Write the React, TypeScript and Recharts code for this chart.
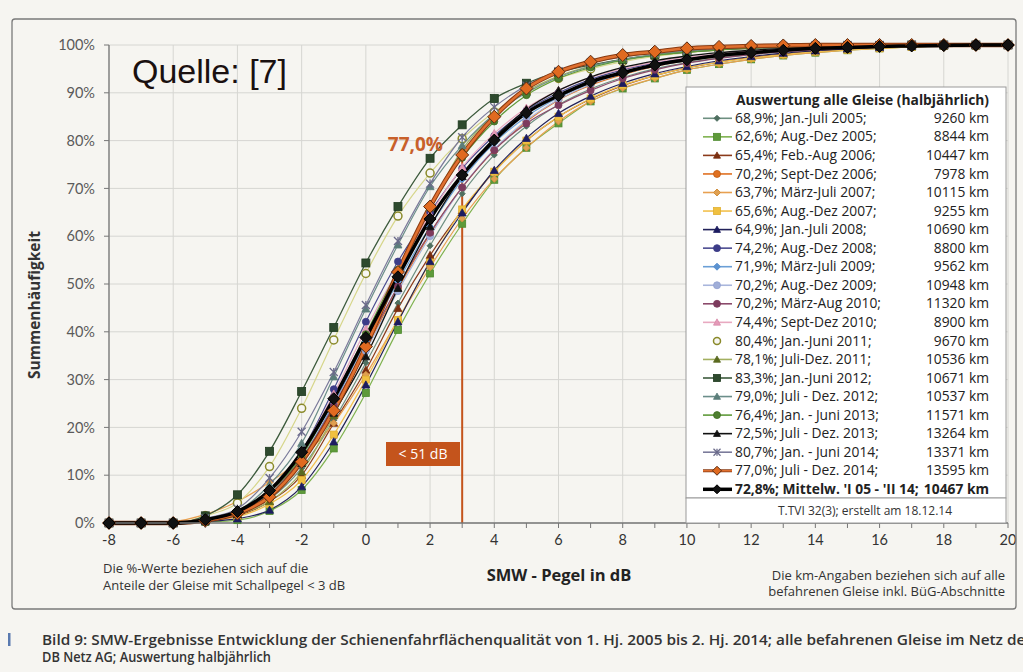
import React from 'react';
import { LineChart, Line, XAxis, YAxis, CartesianGrid, ReferenceLine } from 'recharts';

// ---------- data ----------
const xValues = [-8, -7, -6, -5, -4, -3, -2, -1, 0, 1, 2, 3, 4, 5, 6, 7, 8, 9, 10, 11, 12, 13, 14, 15, 16, 17, 18, 19, 20];
const xEvenTicks = [-8, -6, -4, -2, 0, 2, 4, 6, 8, 10, 12, 14, 16, 18, 20];
const yTicks = [0, 10, 20, 30, 40, 50, 60, 70, 80, 90, 100];

const s2005a = [0, 0, 0, 0.5, 1.7, 5, 11.5, 21.5, 33.5, 46, 58, 68.9, 77, 83, 87.5, 90.8, 93.2, 95, 96.3, 97.3, 98, 98.6, 99, 99.4, 99.6, 99.8, 99.9, 100, 100];
const s2005b = [0, 0, 0, 0.2, 0.6, 2.5, 6.9, 15.6, 27.2, 40.4, 52.2, 62.6, 71.8, 78.5, 83.6, 88.2, 90.9, 93, 94.8, 96, 97, 97.8, 98.4, 98.9, 99.3, 99.6, 99.8, 99.9, 100];
const s2006a = [0, 0, 0, 0.5, 1.5, 4.5, 10, 20.9, 32, 44.9, 56, 65.4, 73.5, 80, 85, 88.7, 91.5, 93.6, 95.2, 96.4, 97.4, 98.1, 98.7, 99.1, 99.4, 99.7, 99.9, 100, 100];
const s2006b = [0, 0, 0, 0.6, 2, 6, 13, 24, 36.5, 49, 60.5, 70.2, 78, 84, 88.5, 91.6, 93.8, 95.5, 96.7, 97.6, 98.3, 98.8, 99.2, 99.5, 99.7, 99.8, 99.9, 100, 100];
const s2007a = [0, 0, 0.3, 1.8, 4.5, 8.5, 13.5, 20.9, 31, 42.5, 53.5, 63.7, 72, 78.5, 84, 88.2, 91, 93, 94.8, 96, 97, 97.8, 98.4, 98.9, 99.3, 99.6, 99.8, 99.9, 100];
const s2007b = [0, 0, 0, 0.4, 1.3, 4, 9, 18.5, 30, 42.5, 54.5, 65.6, 73.5, 80, 85, 88.8, 91.6, 93.6, 95.2, 96.4, 97.3, 98, 98.6, 99, 99.3, 99.6, 99.8, 99.9, 100];
const s2008a = [0, 0, 0, 0.3, 0.9, 2.7, 7.6, 17, 28.9, 42.1, 54.7, 64.9, 73.8, 80.5, 85.7, 89.3, 92, 94, 95.5, 96.7, 97.6, 98.3, 98.8, 99.2, 99.5, 99.7, 99.9, 100, 100];
const s2008b = [0, 0, 0, 0.6, 2, 6.5, 15, 28, 42.1, 54.7, 65, 74.2, 81, 86.3, 90, 92.8, 94.8, 96.2, 97.2, 98, 98.6, 99, 99.3, 99.5, 99.7, 99.8, 99.9, 100, 100];
const s2009a = [0, 0, 0, 0.6, 2, 6, 13.5, 25, 38, 50.5, 62, 71.9, 79.5, 85, 89, 92, 94, 95.6, 96.8, 97.7, 98.3, 98.8, 99.2, 99.5, 99.7, 99.8, 99.9, 100, 100];
const s2009b = [0, 0, 0, 0.5, 1.7, 5.5, 12.5, 23.5, 36, 48.5, 60, 70.2, 78.2, 84.2, 88.6, 91.8, 94, 95.6, 96.8, 97.7, 98.4, 98.9, 99.3, 99.5, 99.7, 99.8, 99.9, 100, 100];
const s2010a = [0, 0, 0, 0.7, 2.3, 6.5, 13.5, 24.5, 37, 49.5, 60.7, 70.2, 78, 83.6, 87.4, 90.5, 93, 94.8, 96.2, 97.2, 98, 98.6, 99, 99.4, 99.6, 99.8, 99.9, 100, 100];
const s2010b = [0, 0, 0, 0.8, 2.5, 7, 15, 27, 40.5, 53, 64.5, 74.4, 81.5, 86.8, 90.5, 93.2, 95, 96.4, 97.4, 98.1, 98.7, 99.1, 99.4, 99.6, 99.8, 99.9, 100, 100, 100];
const s2011a = [0, 0, 0, 1.5, 4.2, 11.8, 24, 38.3, 52.2, 64.2, 73.2, 80.4, 86, 90, 93, 95, 96.5, 97.6, 98.4, 98.9, 99.3, 99.5, 99.7, 99.8, 99.9, 100, 100, 100, 100];
const s2011b = [0, 0, 0, 0.5, 1.8, 4.5, 10.7, 22.5, 37, 52, 66, 78.1, 85.5, 90.3, 93.5, 95.6, 97, 98, 98.7, 99.2, 99.5, 99.7, 99.8, 99.9, 100, 100, 100, 100, 100];
const s2012a = [0, 0, 0, 1.5, 5.9, 15, 27.5, 40.9, 54.4, 66.2, 76.3, 83.3, 88.8, 92, 94.3, 95.8, 97, 97.9, 98.5, 99, 99.3, 99.5, 99.7, 99.8, 99.9, 100, 100, 100, 100];
const s2012b = [0, 0, 0, 0.8, 2.5, 8, 16.7, 30.6, 44.8, 58.2, 70.4, 79, 85.5, 90, 93.3, 95.5, 97, 98, 98.7, 99.2, 99.5, 99.7, 99.8, 99.9, 100, 100, 100, 100, 100];
const s2013a = [0, 0, 0, 0.7, 2.2, 6.5, 14, 26, 39.5, 53, 66, 76.4, 84, 89.5, 93, 95.3, 96.8, 97.8, 98.5, 99, 99.4, 99.6, 99.8, 99.9, 100, 100, 100, 100, 100];
const s2013b = [0, 0, 0, 0.5, 1.8, 5.5, 12.5, 23, 34.8, 49.1, 62, 72.5, 80.5, 86.5, 90.5, 93.3, 95.3, 96.7, 97.7, 98.4, 98.9, 99.3, 99.5, 99.7, 99.8, 99.9, 100, 100, 100];
const s2014a = [0, 0, 0, 1, 3, 9.4, 19.1, 31.6, 45.6, 59, 71, 80.7, 87, 91.5, 94.5, 96.3, 97.5, 98.3, 98.9, 99.3, 99.6, 99.8, 99.9, 100, 100, 100, 100, 100, 100];
const s2014b = [0, 0, 0, 0.5, 2, 5.5, 12.8, 23.5, 36.9, 52.5, 66.2, 77, 85, 90.9, 94.4, 96.5, 97.9, 98.6, 99.3, 99.6, 99.8, 99.9, 100, 100, 100, 100, 100, 100, 100];
const sMean = [0, 0, 0, 0.7, 2.4, 6.8, 14.8, 26, 38.8, 51.5, 63.6, 72.8, 80.1, 85.8, 89.4, 92.3, 94.2, 95.8, 96.9, 97.8, 98.4, 98.9, 99.3, 99.5, 99.7, 99.8, 99.9, 100, 100];

const seriesValues = [s2005a, s2005b, s2006a, s2006b, s2007a, s2007b, s2008a, s2008b, s2009a, s2009b, s2010a, s2010b, s2011a, s2011b, s2012a, s2012b, s2013a, s2013b, s2014a, s2014b, sMean];

const legendLabels = [
  '68,9%; Jan.-Juli 2005;', '62,6%; Aug.-Dez 2005;', '65,4%; Feb.-Aug 2006;', '70,2%; Sept-Dez 2006;',
  '63,7%; März-Juli 2007;', '65,6%; Aug.-Dez 2007;', '64,9%; Jan.-Juli 2008;', '74,2%; Aug.-Dez 2008;',
  '71,9%; März-Juli 2009;', '70,2%; Aug.-Dez 2009;', '70,2%; März-Aug 2010;', '74,4%; Sept-Dez 2010;',
  '80,4%; Jan.-Juni 2011;', '78,1%; Juli-Dez. 2011;', '83,3%; Jan.-Juni 2012;', '79,0%; Juli - Dez. 2012;',
  '76,4%; Jan. - Juni 2013;', '72,5%; Juli - Dez. 2013;', '80,7%; Jan. - Juni 2014;', '77,0%; Juli - Dez. 2014;',
  "72,8%; Mittelw. 'I 05 - 'II 14;",
];
const legendKm = ['9260 km', '8844 km', '10447 km', '7978 km', '10115 km', '9255 km', '10690 km', '8800 km', '9562 km', '10948 km', '11320 km', '8900 km', '9670 km', '10536 km', '10671 km', '10537 km', '11571 km', '13264 km', '13371 km', '13595 km', '10467 km'];

// ---------- styles ----------
type Shape = 'diamond' | 'square' | 'triangle' | 'circle' | 'ocircle' | 'star';
interface Sty { line: string; fill: string; stroke: string; shape: Shape; size: number; width: number }
const styles: Sty[] = [
  { line: '#6d8f80', fill: '#4f6f60', stroke: '#4f6f60', shape: 'diamond', size: 3, width: 1.2 },
  { line: '#7fb24f', fill: '#5e9a3a', stroke: '#4e8a2e', shape: 'square', size: 3.5, width: 1.2 },
  { line: '#8b3a1a', fill: '#7a2e10', stroke: '#7a2e10', shape: 'triangle', size: 4, width: 1.2 },
  { line: '#e07020', fill: '#e07020', stroke: '#c05a10', shape: 'circle', size: 3.5, width: 1.2 },
  { line: '#e8a050', fill: '#e0a050', stroke: '#d09040', shape: 'diamond', size: 3.5, width: 1.2 },
  { line: '#f2c14e', fill: '#f0c040', stroke: '#e0b030', shape: 'square', size: 3.5, width: 1.2 },
  { line: '#22225a', fill: '#1c1c60', stroke: '#1c1c60', shape: 'triangle', size: 4, width: 1.2 },
  { line: '#4b4b90', fill: '#3c3c88', stroke: '#3c3c88', shape: 'circle', size: 3.5, width: 1.2 },
  { line: '#6b9fd6', fill: '#5c92d0', stroke: '#5c92d0', shape: 'diamond', size: 3.5, width: 1.2 },
  { line: '#a9b6dc', fill: '#a0aed8', stroke: '#90a0d0', shape: 'circle', size: 3.5, width: 1.2 },
  { line: '#8b4a6b', fill: '#7d3b5e', stroke: '#7d3b5e', shape: 'circle', size: 3.5, width: 1.2 },
  { line: '#e8a9c0', fill: '#e49ab8', stroke: '#d88aa8', shape: 'triangle', size: 4, width: 1.2 },
  { line: '#d6d68a', fill: '#f7f6f2', stroke: '#8a8a2a', shape: 'ocircle', size: 4, width: 1.2 },
  { line: '#a3b060', fill: '#5a6a20', stroke: '#5a6a20', shape: 'triangle', size: 4, width: 1.2 },
  { line: '#3c5a3c', fill: '#2e4a2e', stroke: '#1e3a1e', shape: 'square', size: 4, width: 1.3 },
  { line: '#6b8e8a', fill: '#5b7e7a', stroke: '#5b7e7a', shape: 'triangle', size: 4, width: 1.2 },
  { line: '#5f9a3a', fill: '#4e7f30', stroke: '#3e6f20', shape: 'circle', size: 3.5, width: 1.2 },
  { line: '#111111', fill: '#111111', stroke: '#111111', shape: 'triangle', size: 4, width: 1.3 },
  { line: '#7b7b9b', fill: '#6a6a8a', stroke: '#6a6a8a', shape: 'star', size: 4, width: 1.2 },
  { line: '#e07030', fill: '#e06a20', stroke: '#5a2a10', shape: 'diamond', size: 6.5, width: 3 },
  { line: '#000000', fill: '#111111', stroke: '#000000', shape: 'diamond', size: 6, width: 3.5 },
];

const rows = xValues.map((x, i) => {
  const r: Record<string, number> = { x };
  seriesValues.forEach((arr, k) => { r['s' + k] = arr[i]; });
  return r;
});

function Marker({ shape, cx, cy, size, fill, stroke }: { shape: Shape; cx: number; cy: number; size: number; fill: string; stroke: string }) {
  const s = size;
  switch (shape) {
    case 'diamond':
      return <polygon points={`${cx},${cy - s} ${cx + s},${cy} ${cx},${cy + s} ${cx - s},${cy}`} fill={fill} stroke={stroke} strokeWidth={1} />;
    case 'square':
      return <rect x={cx - s} y={cy - s} width={2 * s} height={2 * s} fill={fill} stroke={stroke} strokeWidth={0.8} />;
    case 'triangle':
      return <polygon points={`${cx},${cy - s} ${cx + s},${cy + s * 0.8} ${cx - s},${cy + s * 0.8}`} fill={fill} stroke={stroke} strokeWidth={0.8} />;
    case 'circle':
      return <circle cx={cx} cy={cy} r={s} fill={fill} stroke={stroke} strokeWidth={0.8} />;
    case 'ocircle':
      return <circle cx={cx} cy={cy} r={s} fill={fill} stroke={stroke} strokeWidth={1.5} />;
    case 'star':
      return (
        <g stroke={stroke} strokeWidth={1.3}>
          <line x1={cx - s} y1={cy - s} x2={cx + s} y2={cy + s} />
          <line x1={cx - s} y1={cy + s} x2={cx + s} y2={cy - s} />
          <line x1={cx} y1={cy - s} x2={cx} y2={cy + s} />
        </g>
      );
  }
  return null;
}

const FONT = 'Lato, "Open Sans", sans-serif';
const FONT2 = '"Open Sans", "Noto Sans", sans-serif';
const drawOrder = [0, 1, 2, 3, 4, 5, 6, 7, 8, 9, 10, 11, 12, 13, 14, 15, 16, 17, 18, 19, 20];

export default function App() {
  const legTop = 118.3;
  const legStep = 18.55;
  return (
    <div style={{ position: 'absolute', left: 0, top: 0, width: 1023, height: 672, background: '#f6f5f1', overflow: 'hidden' }}>
      <LineChart
        width={1023}
        height={672}
        data={rows}
        margin={{ top: 45, right: 15, bottom: 119, left: 49 }}
        style={{ position: 'absolute', left: 0, top: 0 }}
      >
        <CartesianGrid stroke="#d6d6d2" strokeWidth={1} verticalValues={xEvenTicks} horizontalValues={yTicks} />
        <XAxis
          dataKey="x"
          type="number"
          domain={[-8, 20]}
          ticks={xValues}
          interval={0}
          tickFormatter={(v: number) => (v % 2 === 0 ? String(v) : '')}
          tick={{ fontSize: 14.5, fill: '#333', fontFamily: FONT }}
          tickSize={5}
          tickMargin={7}
          tickLine={{ stroke: '#777' }}
          axisLine={{ stroke: '#777', strokeWidth: 1.3 }}
          height={30}
        />
        <YAxis
          type="number"
          domain={[0, 100]}
          ticks={yTicks}
          interval={0}
          tickFormatter={(v: number) => `${v}%`}
          tick={{ fontSize: 14.5, fill: '#5a5a5a', fontFamily: FONT }}
          tickSize={5}
          tickMargin={9}
          tickLine={{ stroke: '#777' }}
          axisLine={{ stroke: '#777', strokeWidth: 1.3 }}
          width={60}
        />
        <ReferenceLine segment={[{ x: 3, y: 0 }, { x: 3, y: 77 }]} stroke="#c4541c" strokeWidth={2} />
        {drawOrder.map((k) => {
          const st = styles[k];
          const lines = [];
          if (k === 19) {
            lines.push(
              <Line key={'o' + k} dataKey={'s' + k} type="monotone" stroke="#8a3a10" strokeWidth={4.5} dot={false} isAnimationActive={false} />
            );
          }
          lines.push(
            <Line
              key={'s' + k}
              dataKey={'s' + k}
              type="monotone"
              stroke={st.line}
              strokeWidth={k === 19 ? 2.5 : st.width}
              isAnimationActive={false}
              dot={(p: any) => (
                p.cx == null ? <g key={`d${k}-${p.index}`} /> :
                <g key={`d${k}-${p.index}`}>
                  <Marker shape={st.shape} cx={p.cx} cy={p.cy} size={st.size} fill={st.fill} stroke={st.stroke} />
                </g>
              )}
              activeDot={false}
            />
          );
          return lines;
        })}
      </LineChart>

      <svg width={1023} height={672} style={{ position: 'absolute', left: 0, top: 0, pointerEvents: 'none' }}>
        {/* frame */}
        <rect x={12} y={19} width={1004} height={590} rx={3} fill="none" stroke="#7a7a7a" strokeWidth={1.3} />

        {/* source */}
        <text x={132} y={83} fontFamily='"Liberation Sans", Arial, sans-serif' fontSize={34} fill="#1a1010">Quelle: [7]</text>

        {/* 77,0% annotation */}
        <text x={443} y={151} textAnchor="end" fontFamily={FONT2} fontWeight={700} fontSize={19} fill="#c8602a">77,0%</text>

        {/* < 51 dB box */}
        <rect x={386} y={442} width={74} height={24} fill="#c4541c" />
        <text x={423} y={459} textAnchor="middle" fontFamily={FONT2} fontSize={14} fill="#ffffff">{'< 51 dB'}</text>

        {/* axis titles */}
        <text transform="translate(40,305) rotate(-90)" textAnchor="middle" fontFamily={FONT2} fontWeight={700} fontSize={15.5} fill="#333">Summenhäufigkeit</text>
        <text x={559} y={581} textAnchor="middle" fontFamily={FONT2} fontWeight={700} fontSize={16.5} fill="#222">SMW - Pegel in dB</text>

        {/* notes */}
        <text x={103} y={572.5} fontFamily={FONT2} fontSize={13} fill="#333">Die %-Werte beziehen sich auf die</text>
        <text x={103} y={590} fontFamily={FONT2} fontSize={13} fill="#333">Anteile der Gleise mit Schallpegel &lt; 3 dB</text>
        <text x={1005} y={579.5} textAnchor="end" fontFamily={FONT2} fontSize={13} fill="#333">Die km-Angaben beziehen sich auf alle</text>
        <text x={1005} y={596} textAnchor="end" fontFamily={FONT2} fontSize={13} fill="#333">befahrenen Gleise inkl. BüG-Abschnitte</text>

        {/* legend */}
        <rect x={686} y={87} width={320} height={411} fill="#ffffff" stroke="#9a9a9a" strokeWidth={1} />
        <rect x={686} y={498} width={320} height={25} fill="#ffffff" stroke="#9a9a9a" strokeWidth={1} />
        <text x={865} y={515} textAnchor="middle" fontFamily={FONT2} fontSize={12} fill="#333">T.TVI 32(3); erstellt am 18.12.14</text>
        <text x={736} y={104.5} fontFamily={FONT2} fontWeight={700} fontSize={13.8} fill="#222">Auswertung alle Gleise (halbjährlich)</text>
        {legendLabels.map((lab, i) => {
          const st = styles[i];
          const y = legTop + i * legStep;
          const isMean = i === 20;
          return (
            <g key={'lg' + i}>
              {st.shape !== 'ocircle' && (
                <line x1={703} x2={732} y1={y} y2={y} stroke={i === 19 ? '#8a3a10' : st.line} strokeWidth={isMean ? 3.5 : i === 19 ? 3 : 1.6} />
              )}
              {i === 19 && <line x1={703} x2={732} y1={y} y2={y} stroke={st.line} strokeWidth={1.5} />}
              <Marker shape={st.shape} cx={717} cy={y} size={Math.min(st.size, isMean || i === 19 ? 4.5 : 3.5)} fill={st.fill} stroke={st.stroke} />
              <text x={735} y={y + 4.6} fontFamily={FONT2} fontSize={13.8} fontWeight={isMean ? 700 : 400} fill="#222">{lab}</text>
              <text x={989} y={y + 4.6} textAnchor="end" fontFamily={FONT2} fontSize={13.8} fontWeight={isMean ? 700 : 400} fill="#222">{legendKm[i]}</text>
            </g>
          );
        })}

        {/* caption */}
        <rect x={8} y={633} width={2.5} height={13} fill="#5a7ab0" />
        <text x={42} y={645} fontFamily='"Open Sans", sans-serif' fontWeight={600} fontSize={14} fill="#333" textLength={990} lengthAdjust="spacingAndGlyphs">
          Bild 9:  SMW-Ergebnisse Entwicklung der Schienenfahrflächenqualität von 1. Hj. 2005 bis 2. Hj. 2014; alle befahrenen Gleise im Netz der
        </text>
        <text x={42} y={662} fontFamily='"Open Sans", sans-serif' fontWeight={600} fontSize={14} fill="#333" textLength={229} lengthAdjust="spacingAndGlyphs">
          DB Netz AG; Auswertung halbjährlich
        </text>
      </svg>
    </div>
  );
}
